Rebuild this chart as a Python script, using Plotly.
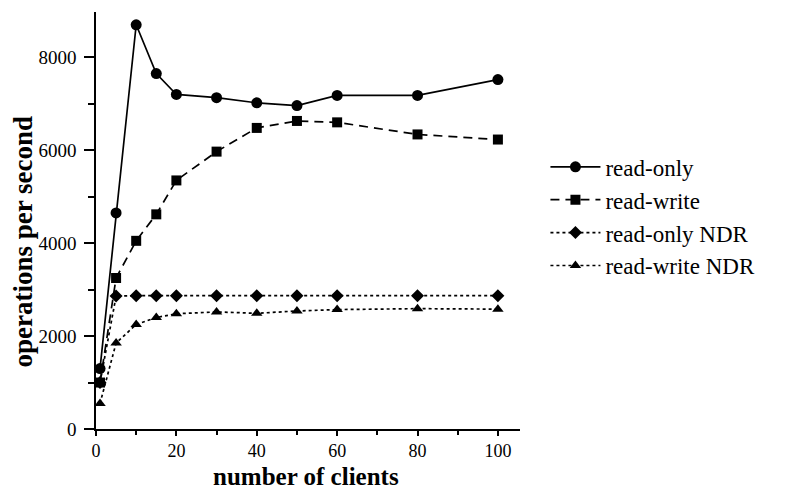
import plotly.graph_objects as go

clients = [1, 5, 10, 15, 20, 30, 40, 50, 60, 80, 100]
read_only = [1300, 4650, 8700, 7650, 7200, 7130, 7020, 6960, 7180, 7180, 7520]
read_write = [1000, 3250, 4050, 4620, 5350, 5970, 6480, 6630, 6600, 6340, 6230]
read_only_ndr = [1000, 2860, 2870, 2870, 2870, 2870, 2870, 2870, 2870, 2870, 2870]
read_write_ndr = [550, 1850, 2250, 2400, 2480, 2520, 2490, 2540, 2570, 2590, 2580]

series = [
    ("read-only", read_only, "solid", "circle", 11),
    ("read-write", read_write, "9px,6px", "square", 10),
    ("read-only NDR", read_only_ndr, "3px,3px", "diamond", 10),
    ("read-write NDR", read_write_ndr, "3px,3px", "triangle-up", 10),
]

fig = go.Figure()
for name, vals, dash, sym, size in series:
    fig.add_trace(go.Scatter(
        x=clients, y=vals, name=name, mode="lines+markers",
        line=dict(color="black", width=1.7, dash=dash),
        marker=dict(symbol=sym, size=size, color="black"),
    ))

font = "Liberation Serif, Times New Roman, serif"
# page body has an 8px margin, so figure is sized/offset accordingly
fig.update_layout(
    width=779, height=481,
    margin=dict(l=88, r=267, t=4, b=60),
    paper_bgcolor="white", plot_bgcolor="white",
    font=dict(family=font, color="black"),
    legend=dict(x=1.06, y=0.51, xanchor="left", yanchor="middle",
                font=dict(size=23, family=font), tracegroupgap=0,
                itemwidth=50),
    showlegend=True,
    annotations=[
        dict(text="<b>operations per second</b>", xref="paper", yref="paper",
             x=-0.172, y=0.45, textangle=-90, showarrow=False,
             xanchor="center", yanchor="middle", font=dict(size=27, family=font)),
        dict(text="<b>number of clients</b>", xref="paper", yref="paper",
             x=0.495, y=-0.113, showarrow=False,
             xanchor="center", yanchor="middle", font=dict(size=25, family=font)),
    ],
)
fig.update_xaxes(
    range=[0, 105.5], tickvals=[0, 20, 40, 60, 80, 100], automargin=False,
    showline=True, linecolor="black", linewidth=1.5,
    ticks="outside", ticklen=5, tickwidth=1.5, tickcolor="black",
    minor=dict(tickvals=[10, 30, 50, 70, 90], ticks="outside", ticklen=4, tickcolor="black", tickwidth=1.5),
    showgrid=False, zeroline=False,
    tickfont=dict(size=18, family=font),
)
fig.update_yaxes(
    range=[0, 8975], tickvals=[0, 2000, 4000, 6000, 8000], automargin=False,
    showline=True, linecolor="black", linewidth=1.5,
    ticks="outside", ticklen=10, tickwidth=1.5, tickcolor="black",
    minor=dict(tickvals=[1000, 3000, 5000, 7000], ticks="outside", ticklen=6, tickcolor="black", tickwidth=1.5),
    showgrid=False, zeroline=False, ticklabelstandoff=4,
    tickfont=dict(size=19, family=font),
)

fig.write_html("out.html")
